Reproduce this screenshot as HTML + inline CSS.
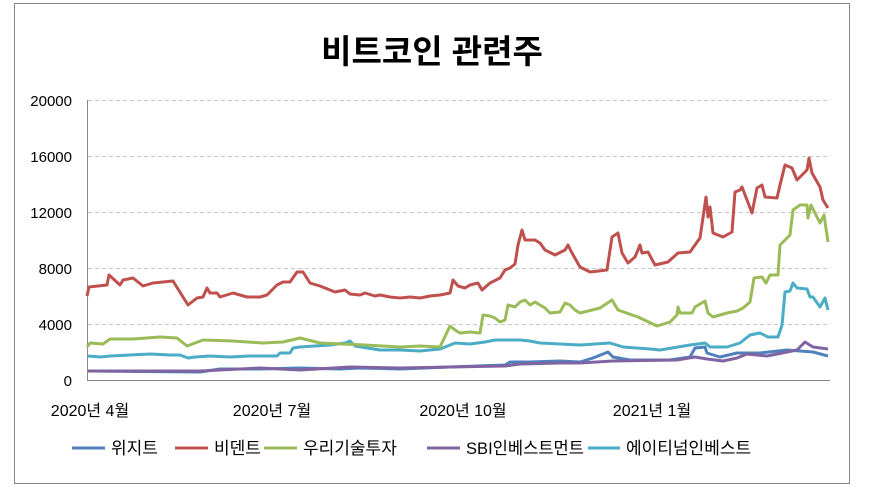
<!DOCTYPE html>
<html><head><meta charset="utf-8"><style>
body{margin:0;background:#fff;}
svg{display:block;font-family:"Liberation Sans","Noto Sans CJK KR",sans-serif;}
</style></head><body>
<svg width="877" height="490" viewBox="0 0 877 490">
<rect x="14.5" y="3.5" width="835" height="480" fill="#fff" stroke="#888" stroke-width="1"/>
<text x="432" y="63" text-anchor="middle" font-size="33" font-weight="bold" fill="#000">비트코인 관련주</text>
<g stroke="#c8c8c8" stroke-dasharray="4,3" stroke-width="1">
<line x1="88" y1="100.5" x2="830" y2="100.5"/><line x1="88" y1="156.5" x2="830" y2="156.5"/>
<line x1="88" y1="212.5" x2="830" y2="212.5"/><line x1="88" y1="268.5" x2="830" y2="268.5"/>
<line x1="88" y1="324.5" x2="830" y2="324.5"/></g>
<line x1="87.5" y1="100" x2="87.5" y2="380" stroke="#888"/>
<line x1="87" y1="380.5" x2="830" y2="380.5" stroke="#888"/>
<g font-size="15" fill="#000" text-anchor="end">
<text x="72" y="106">20000</text><text x="72" y="162">16000</text><text x="72" y="218">12000</text>
<text x="72" y="274">8000</text><text x="72" y="330">4000</text><text x="72" y="386">0</text></g>
<g font-size="16" fill="#000" text-anchor="middle">
<text x="90" y="416">2020년 4월</text><text x="272" y="416">2020년 7월</text>
<text x="463" y="416">2020년 10월</text><text x="652" y="416">2021년 1월</text></g>
<g fill="none" stroke-width="3" stroke-linejoin="round">
<polyline stroke="#4f81bd" points="88,371 200,372 220,369 260,369 300,368 340,369 360,368 400,369 450,367 505,365 510,362 530,362 560,361 580,362 593,358 608,352 613,357 630,360 670,360 690,357 695,348 705,347 707,353 720,357 737,353 760,353 787,350 813,352 828,356"/>
<polyline stroke="#8064a2" points="88,371 200,371 220,370 260,368 300,370 350,367 400,368 450,367 505,366 520,364 560,363 580,363 613,361 677,360 695,357 707,359 723,361 737,358 747,354 767,356 787,352 797,350 805,342 813,347 828,349"/>
<polyline stroke="#4bacc6" points="88,356 100,357 110,356 130,355 150,354 170,355 180,355 188,358 195,357 210,356 230,357 250,356 277,356 280,353 290,353 293,348 300,347 330,345 345,343 350,341 355,346 380,350 400,350 420,351 440,349 450,345 455,343 470,344 485,342 495,340 520,340 530,341 540,343 560,344 580,345 610,343 623,347 650,349 660,350 690,345 705,343 710,347 727,347 740,343 750,335 760,333 768,337 778,337 782,325 785,292 790,291 793,283 797,288 807,289 810,297 813,297 820,307 825,298 828,310"/>
<polyline stroke="#9bbb59" points="87,347 90,343 103,344 110,339 133,339 160,337 177,338 187,346 203,340 233,341 263,343 283,342 300,338 320,343 365,345 400,347 420,346 440,347 450,326 455,330 460,333 470,332 480,333 483,315 490,316 495,318 500,322 505,320 508,305 515,307 520,302 525,300 530,305 535,302 545,308 550,313 560,312 565,303 570,305 575,310 580,313 600,308 612,300 618,310 638,317 657,326 670,322 677,315 678,307 680,313 692,313 695,307 705,301 708,313 713,317 727,313 737,311 743,308 750,302 754,278 762,277 766,283 770,275 778,275 780,245 790,235 793,210 800,205 807,205 808,218 811,205 820,223 824,215 828,242"/>
<polyline stroke="#c0504d" points="87,296 89,287 107,285 109,275 120,285 123,280 133,278 143,286 153,283 163,282 173,281 188,305 197,298 203,297 207,288 210,293 217,293 220,297 233,293 247,297 260,297 267,295 277,285 283,282 290,282 297,272 303,272 310,283 320,286 330,290 335,292 345,290 350,294 360,295 365,293 375,296 380,295 390,297 400,298 410,297 420,298 430,296 440,295 450,293 453,280 458,286 465,288 470,285 478,283 482,290 490,283 500,278 505,270 510,268 515,264 518,245 522,230 525,240 535,240 540,243 545,250 555,255 565,250 568,245 572,253 580,267 590,272 607,270 612,237 618,233 622,253 628,263 635,257 640,245 642,253 648,252 655,265 668,262 678,253 690,252 700,238 706,197 708,217 710,207 713,233 723,237 732,232 735,192 740,190 742,187 752,213 757,188 762,185 765,197 777,198 780,185 785,165 792,168 797,180 807,170 809,158 812,173 820,187 823,200 828,208"/>
</g>
<g stroke-width="3">
<line x1="72" y1="448" x2="105" y2="448" stroke="#4f81bd"/>
<line x1="175" y1="448" x2="208" y2="448" stroke="#c0504d"/>
<line x1="264" y1="448" x2="297" y2="448" stroke="#9bbb59"/>
<line x1="427" y1="448" x2="460" y2="448" stroke="#8064a2"/>
<line x1="588" y1="448" x2="620" y2="448" stroke="#4bacc6"/></g>
<g font-size="17" fill="#000">
<text x="111" y="454">위지트</text><text x="214" y="454">비덴트</text>
<text x="303" y="454">우리기술투자</text><text x="466" y="454" textLength="118" lengthAdjust="spacingAndGlyphs">SBI인베스트먼트</text>
<text x="626" y="454">에이티넘인베스트</text></g>
</svg>
</body></html>
